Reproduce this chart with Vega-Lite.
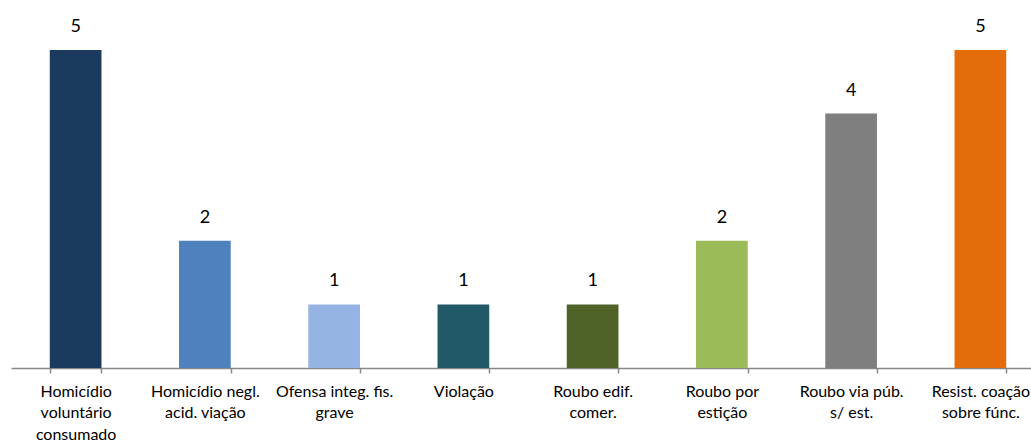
{
  "$schema": "https://vega.github.io/schema/vega-lite/v6.json",
  "autosize": {"type": "none"},
  "width": 1034,
  "height": 318,
  "padding": {"left": 11, "top": 50, "right": 0, "bottom": 77},
  "background": "white",
  "config": {"view": {"stroke": null}, "font": "Lato"},
  "data": {
    "values": [
      {"crime": "Homicídio|voluntário|consumado", "n": 5, "c": "#1b3a5f"},
      {"crime": "Homicídio negl.|acid. viação", "n": 2, "c": "#4f81bd"},
      {"crime": "Ofensa integ. fis.|grave", "n": 1, "c": "#95b3e3"},
      {"crime": "Violação", "n": 1, "c": "#215967"},
      {"crime": "Roubo edif.|comer.", "n": 1, "c": "#4f6228"},
      {"crime": "Roubo por|estição", "n": 2, "c": "#9bbb59"},
      {"crime": "Roubo via  púb.|s/ est.", "n": 4, "c": "#7f7f7f"},
      {"crime": "Resist. coação|sobre fúnc.", "n": 5, "c": "#e46c0a"}
    ]
  },
  "encoding": {
    "x": {
      "field": "crime", "type": "nominal", "sort": null,
      "scale": {"paddingInner": 0.6, "paddingOuter": 0.3},
      "axis": {
        "title": null, "labelAngle": 0, "tickBand": "extent",
        "labelExpr": "split(datum.label, '|')",
        "labelFont": "Lato", "labelFontSize": 16, "labelColor": "#000000",
        "labelLineHeight": 21.5, "labelPadding": 10, "labelBaseline": "top",
        "domainColor": "#888888", "domainWidth": 1.5,
        "tickColor": "#888888", "tickSize": 5, "tickWidth": 1.5,
        "labelLimit": 200
      }
    },
    "y": {
      "field": "n", "type": "quantitative",
      "scale": {"domain": [0, 5], "nice": false},
      "axis": null
    }
  },
  "layer": [
    {"mark": {"type": "bar"}, "encoding": {"color": {"field": "c", "type": "nominal", "scale": null}}},
    {"mark": {"type": "text", "baseline": "bottom", "dy": -14, "fontSize": 18, "font": "Lato", "color": "#000000"},
     "encoding": {"text": {"field": "n", "type": "quantitative"}}}
  ]
}
